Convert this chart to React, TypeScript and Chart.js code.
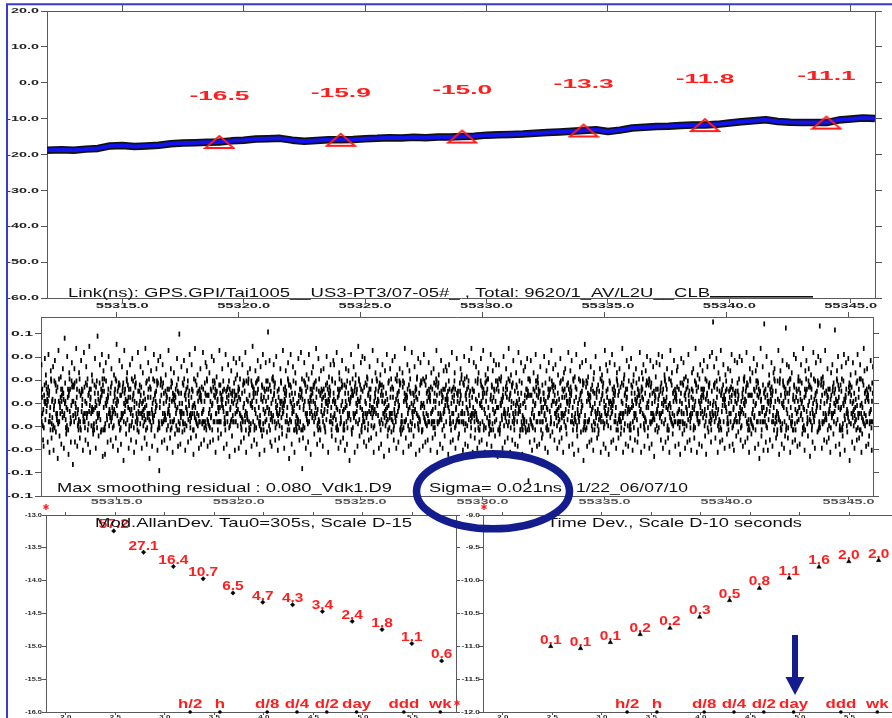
import React, { useEffect, useRef } from 'react';
import { Chart, registerables } from 'chart.js';
Chart.register(...registerables);

const W = 900, H = 730;
const RED = '#ff1e1e';
const NAVY = '#131d8e';
const FRAME = '#3a3ad0';
const LINE_BLUE = '#1212ee';
const SANS = '"Liberation Sans", Arial, sans-serif';

// ---------- top panel: link difference (ns) ----------
const dayMin = 55311.9;
const dayMax = 55346.0;
const dayTicks = [55315, 55320, 55325, 55330, 55335, 55340, 55345];
const topYTicks = [20, 10, 0, -10, -20, -30, -40, -50, -60];
const topDays = [55311.9, 55312.5, 55313.0, 55313.5, 55314.0, 55314.5, 55315.0, 55315.5, 55316.0, 55316.5,
  55317.0, 55317.5, 55318.0, 55318.5, 55319.0, 55319.5, 55320.0, 55320.5, 55321.0, 55321.5,
  55322.0, 55322.5, 55323.0, 55323.5, 55324.0, 55324.5, 55325.0, 55325.5, 55326.0, 55326.5,
  55327.0, 55327.5, 55328.0, 55328.5, 55329.0, 55329.5, 55330.0, 55330.5, 55331.0, 55331.5,
  55332.0, 55332.5, 55333.0, 55333.5, 55334.0, 55334.5, 55335.0, 55335.5, 55336.0, 55336.5,
  55337.0, 55337.5, 55338.0, 55338.5, 55339.0, 55339.5, 55340.0, 55340.5, 55341.0, 55341.5,
  55342.0, 55342.5, 55343.0, 55343.5, 55344.0, 55344.5, 55345.0, 55345.5, 55346.0];
const topValues = [-18.8, -18.7, -18.8, -18.5, -18.3, -17.6, -17.5, -17.8, -17.6, -17.4,
  -17.0, -16.8, -16.7, -16.6, -16.5, -16.2, -16.0, -15.7, -15.6, -15.5,
  -16.0, -16.3, -16.1, -15.9, -15.9, -15.8, -15.6, -15.5, -15.3, -15.4,
  -15.2, -15.3, -15.1, -15.1, -15.0, -14.9, -14.6, -14.5, -14.4, -14.3,
  -14.1, -13.9, -13.7, -13.5, -13.3, -13.1, -13.6, -13.2, -12.6, -12.4,
  -12.2, -12.1, -11.9, -11.8, -11.8, -11.6, -11.2, -10.9, -10.6, -10.3,
  -10.8, -11.0, -11.1, -11.1, -11.1, -10.4, -10.1, -9.8, -10.0];
const markDays = [55319, 55324, 55329, 55334, 55339, 55344];
const markValues = [-16.5, -15.9, -15.0, -13.3, -11.8, -11.1];
const topTitle = 'Link(ns): GPS.GPI/Tai1005__US3-PT3/07-05#_ , Total: 9620/1_AV/L2U__CLB';

// ---------- middle panel: smoothing residuals (ns), one character per sample ----------
const residLevels = '!#$%&()*+,-./0123456789:;<=>?@ABCDEFGHIJKLMNOPQRSTUVWXYZ[]^_abcdefghijklmnopqrstuvwxyz{|}~';
const residZero = 43;
const residStep = 0.0022;
const residRows = [
  'THcEQUIC<K9BROWfNFO]XJUMPS;OVhERT6HELA_ZY=DOGPAbC7KMYBeOXW@ITHFIV3EDjOZE>NLIQ[U:ORJUGaSSP8HIpNXOFB?LACgKQUA5RT^ZJUDG;EMYdVOW0',
  'HOWVEaX;INGLkYQU9ICKDAF^TZ=EBRAeSJUMPT7HEFiIVEBO<XIbNGWIZA:RDSJlUM6PQUICK]LYJA?CKDAWSfLO8VEMYBIqGSP>HINXcOFQ@UARhTZ4',
  'WA_LTZBA5DNdYMPHFO;RQUgICKJIGS<VEaXGLIB9JOC]KSQUIZ=NYmMPHT7OVEXDeWARFB:RIGbHTVIX2ENjSJUMPD?OZY^FOWLQ8UACKc',
  'QUI<CKZEfPHYRSB6LO[WVEX;INGDAFiTJ@IMTWODbRIVI8NGJ^OCKSHE=LPkFAXM:YBIGQdUIZF3IVEQU_ACK9INGZEPhHY>RSJOLTaMYW7AXeBED-',
  'BLOgWZYRE;DVcIXENSF<IGHT]FORAQ8UICKjJUMPH=EAaVYBOXE6SPER^FOR?MQUICKWfALT9ZESArNDJ:IGSb',
  'JIN@XEDWIeZARD7SPLUCK_IVY;FROMThHEBI=GQcUILTAM5AZINGkLYF>EWDIS]COTH8EQUESaPR:OVIDEJiUKE<BOXESd',
  'CRAbZYF9REDRIC^KB;OUGHTgMANY<VEeRYEXQU6ISI[TEOPAL=JEWjELSWE?PROMaPTLYJ8UDGEDAhNTI:QUEIVcORYB4UCKLES_FO>RTHENfEXTP7RIZEd',
  'MRJ]OCKTV8QUfIZPHD;BAGScFEWLY=NXTHEiJA6YPIGF^OXZ?EBRAaANDMY9WOLlVESQU<ACKS_IXBO:YSGeUZZLED5CHEbAPRAW>VOhDKAQU7ITEJdOYFU@LLYs',
  'QUICKeWA;FTIN9GZEP[HYcRSVEX<BOLgDJIMT7HEQU=ICKOaNYXGOB?LIjNJUM8PSOVE_RT>HELAZdYDW3ARFWOhVEN:SILKbPYJAM6AS^EXCHA@NGEDFfORB<LUEQUiARTZ.',
  'PA=CKMYdBOXWI8TH]FIVED;OZhENLIQU5ORJ^UGSHbOWVE?XINGLYkQUI:CKDAfFTZEB<RAS_JUMPTH9EQaUICKBR@OWNFgOXJUM6PS[OVERTcHELA>ZYDOGe',
  'SPcHINXO<FBLiACKQUA8RT^ZJUD;GEMYVeOWJ=ACKDAW7SLOaVEM:YBIGS_PHI2NXOFQhUA?RTZBRIbGHT6VIX]ENSJUM9PDlOZYF>OWLQdUA@CKg',
  'THEFI;VEfBOXIN9GW[IZARDS<JUbMPQUI=CKLYGjLIB6JOCKSQ^UI?ZNYMePHTO8VEXDW]AR:FTWOcDRIVI4NGJ_OCKSHEhLP>FAXMY7BIGaQUIZ@',
  'FIVeEQUA<CKIgNGZEP8HY]RSJO;LTMYaWAXB?EDHEA^VY6BOXESkPER=FORMQcUICK9WA_LTZES:ANiDJIGSM>RJObCKTV5QUIZ[PHDfBAGS7FEWdLYNX@',
  'AMA9ZINhGLYFE;WD[ISCOT<HEQdUESPRO7VI^DEJU=KEBaOXESB?LOWZjYR6EDVIX]ENSF:IGHeTFORA8QUI_CKJ>UMPb',
  'WEP_ROMPT5LYcJUDGE;DANTiIQU<EIVORY^BU8CKLEfSFORT=HE?NEXTPaRIZ]EJIN7XEDWgIZA:RDSPL[UCK9IVYFeROMTH>EBkIGQU6ILTd',
  'THE=JAYPbIGFO8XZEB^RA;ANDMYfWO<LVESQjUACKS6IX]BOYS:GUZaZLED?CHEAPhRA9WVOD_KAQeUITE>JOYcFULLY4',
  'WALTcZB?ADNYM[PHFO8RQUgICKJ;IGSVaEXQUI=CKZkEPHYR6SB]LOWV<EXIeNGDAFT:JIM^WOVEN9SIiLKPY>JAMAdSEXC5HANG_EDFORbBL@UEQUfARTZ(',
  'CRAZ;YFReEDRI7CKBOU^GH<TMANhYVER9YE[XQUIS:ITEbOPALJ=EW?ELSSPgHIN8XOFB_LACK6QUAdRTZJU>DGEjMYV@OWa',
  'TWOD<RIVcINGJOC8KS]HELP;FAXfMYBI=GQUIZ6TH^EQUIaCKBR?OWNFOXiJU9MPSO_VERTeHE:LAZYD5OG[FIVEQhUAC>KIN7GZEPHbYRS@JOLTdMYWA2XBEDm',
  'HEAeVYBO9XES[PERF;ORMQbUI<CKWALT7ZE^SANDJgIGSQU=ICKW?AFTINaGZ6EPHY]RSVEX:BOLDjJI8Mc',
  'THEQ_UICK5ONYdXGOBL;INhJUMP<SOVEcRTHEL8AZ^YDWAR=FTHaEFIV?EBOXIkNG6WIZA]RDSJ:UMPeQUICK9LYb',
  'JACK=DAfWSLOV7EMY]BIGS<PHIaNXOFQ;UA?RTZMRiJOCK6TV^QUIZPcHDB9AGSF_EWLYgNX>BLOWZ8YREeDVIX:ENSFIbGHT4FORAQ[UIdCKJ@UMPh',
  'BRIcGHTV<IXENgSJ8UMPDO]ZYF;OWLQUaACK=AMAZ6INGjLYFEW^DI?SCOTeHEQU9ESPRO_VIbDEJ:UKEBO5XESf',
  'JINX?EDWdIZARD8SP[LUCKI;VYFhROMT<HEBIG7QU^ILTPaACK=MYBOkXWIT6HF]IVEDO:ZENcLIQUO9RJ_UGSQeUICK>ZEP5HYRSbBLO@WVEXgINGD;AFTiJIMx',
  'HOWbVEXI=NGLfYQUI6CK^DAFTZ;EBjRASJU<MPWcEPRO8MP]TLYJU?DGEaDANTI9QU_EIVOhRYB:UCKL7ESeFORTH>ENEdXTP@RIZEg',
  'GLI<BJOCeKSQ9UIZNY[MP;HTOViEXD=WARFC6RAaZYFRE?DRI^CKBOfUGHT8MA_NYVEcRYEX:QUI3SITEkOP>ALJEbWE7LSw',
  'THEQU;ICgKBRO7WNFO]XJ<UMPSOdVER9THE^LAZaYDOGT=HEJ?AYPIjGF5OXZE_BRAA:NDeMYWOL8VES>QUuACKc',
  'SIX=BOYbSGUZ6ZLEDC^HE;APRAhWVOD<KAfQUITE9JOY[FULL:YSPHcINXO?FBkLACKQ7UA_RTZeJUDGE>MYaVOWF4IVE]QUACK;INiGZEPH8YRSdJOLTM@YWgAXBEDv',
  'BLeOWZY8RED[VIXE<NSFjIGHTF;ORaAQUI=CKJUM6PB^RIGHcTVI?XENSJtUM9PDOZ_YFOgWLQU:AC5KWALTbZBA>DNYMhPH7FORQdUICK@JIGfSVEX2',
  'TWO]DRIVI;NGdJOCKS8HEL^PFAX<MYhBIGQU=IZAcMAZI6NG?LYFEWkDI_SCOTH9EQUaESPR:OV>IDEJUeKEB7OXESb',
];
const residMin = -0.1;
const residMax = 0.0933;
const residTicks = [0.075, 0.05, 0.025, 0, -0.025, -0.05, -0.075, -0.1];
const residTickLabels = ['0.1', '0.0', '0.0', '0.0', '0.0', '-0.0', '-0.1', '-0.1'];
const residNote = 'Max smoothing residual : 0.080_Vdk1.D9';
const sigmaNote = 'Sigma= 0.021ns';
const dateNote = '1/22_06/07/10';

// ---------- bottom panels: stability ----------
const tauLog = [2.484, 2.785, 3.086, 3.387, 3.688, 3.989, 4.290, 4.591, 4.892, 5.193, 5.494, 5.795];
const allanDev = [57.2, 27.1, 16.4, 10.7, 6.5, 4.7, 4.3, 3.4, 2.4, 1.8, 1.1, 0.6]; // x 1e-15
const timeDev = [0.100, 0.093, 0.115, 0.152, 0.19, 0.28, 0.50, 0.77, 1.10, 1.62, 1.96, 2.04]; // x 1e-10 s
const spanNames = ['h/2', 'h', 'd/8', 'd/4', 'd/2', 'day', 'ddd', 'wk'];
const spanSeconds = [1800, 3600, 10800, 21600, 43200, 86400, 259200, 604800];
const logMin = 1.8;
const logMax = 5.94;
const logTicks = [2.0, 2.5, 3.0, 3.5, 4.0, 4.5, 5.0, 5.5];
const allanYTicks = [-13.0, -13.5, -14.0, -14.5, -15.0, -15.5, -16.0];
const tdevYTicks = [-9.0, -9.5, -10.0, -10.5, -11.0, -11.5, -12.0];
const allanTitle = 'Mod.AllanDev. Tau0=305s, Scale D-15';
const tdevTitle = 'Time Dev., Scale D-10 seconds';

// ---------- drawing helpers ----------
function measure(ctx: CanvasRenderingContext2D, s: string, font: string) {
  ctx.save(); ctx.font = font; const w = ctx.measureText(s).width; ctx.restore(); return w;
}
function txt(ctx: CanvasRenderingContext2D, s: string, x: number, y: number, font: string, color: string,
  sx: number, align = 'left', base: CanvasTextBaseline = 'alphabetic') {
  ctx.save();
  ctx.font = font; ctx.fillStyle = color; ctx.textAlign = 'left'; ctx.textBaseline = base;
  const w = ctx.measureText(s).width * sx;
  const x0 = align === 'center' ? x - w / 2 : align === 'right' ? x - w : x;
  ctx.translate(x0, y); ctx.scale(sx, 1); ctx.fillText(s, 0, 0);
  ctx.restore();
}
function fit(ctx: CanvasRenderingContext2D, s: string, x1: number, x2: number, y: number, font: string, color = '#111') {
  txt(ctx, s, x1, y, font, color, (x2 - x1) / measure(ctx, s, font));
}
function star(ctx: CanvasRenderingContext2D, x: number, y: number) {
  ctx.save(); ctx.strokeStyle = RED; ctx.lineWidth = 1.4;
  for (let k = 0; k < 3; k++) {
    const a = Math.PI / 2 + k * Math.PI / 3;
    ctx.beginPath(); ctx.moveTo(x - 3 * Math.cos(a), y - 3 * Math.sin(a)); ctx.lineTo(x + 3 * Math.cos(a), y + 3 * Math.sin(a)); ctx.stroke();
  }
  ctx.restore();
}
type LabOpt = { font: string; ref: string; refW: number; gap: number; labels?: string[]; color?: string };
function yLabels(chart: any, id: string, o: LabOpt) {
  const s = chart.scales[id]; const ctx = chart.ctx; const a = chart.chartArea;
  const sx = o.refW / measure(ctx, o.ref, o.font);
  s.ticks.forEach((t: any, i: number) => {
    const lab = o.labels ? o.labels[i] : Number(t.value).toFixed(1);
    txt(ctx, lab, a.left - o.gap, s.getPixelForValue(t.value), o.font, o.color || '#222', sx, 'right', 'middle');
  });
}
function xLabels(chart: any, id: string, o: LabOpt) {
  const s = chart.scales[id]; const ctx = chart.ctx; const a = chart.chartArea;
  const sx = o.refW / measure(ctx, o.ref, o.font);
  s.ticks.forEach((t: any, i: number) => {
    const lab = o.labels ? o.labels[i] : Number(t.value).toFixed(1);
    txt(ctx, lab, s.getPixelForValue(t.value), a.bottom + o.gap, o.font, o.color || '#222', sx, 'center', 'middle');
  });
}

type Box = { L: number; T: number; R: number; B: number };
type Sizes = { l: number; t: number; r: number; b: number };
function pad(a: Box, s: Sizes) {
  return { left: a.L - s.l, top: a.T - s.t, right: W - a.R - s.r, bottom: H - a.B - s.b };
}
function axis(pos: string, size: number, min: number, max: number, ticks: number[], tl: number) {
  const vertical = pos === 'left' || pos === 'right';
  return {
    type: 'linear', position: pos, min, max,
    afterFit: (s: any) => { if (vertical) s.width = size; else s.height = size; },
    afterBuildTicks: (s: any) => { s.ticks = ticks.map((v) => ({ value: v })); },
    ticks: { display: false },
    grid: { display: true, drawOnChartArea: false, drawTicks: true, tickLength: tl, color: '#555', lineWidth: 1 },
    border: { display: true, color: '#5a5a5a', width: 1 },
  };
}
const baseOpts = {
  responsive: false, animation: false, devicePixelRatio: 1, events: [],
  plugins: { legend: { display: false }, tooltip: { enabled: false } },
};

// ---------- charts ----------
function makeTop(cv: HTMLCanvasElement) {
  const A = { L: 47, T: 11, R: 875, B: 298 };
  const S = { l: 47, t: 11, r: 17, b: 22 };
  const tri = document.createElement('canvas'); tri.width = 32; tri.height = 16;
  const tc = tri.getContext('2d')!;
  tc.strokeStyle = RED; tc.lineWidth = 2; tc.lineJoin = 'miter';
  tc.beginPath(); tc.moveTo(16, 2); tc.lineTo(2, 14); tc.lineTo(30, 14); tc.closePath(); tc.stroke();
  const line = topDays.map((d, i) => ({ x: d, y: topValues[i] }));
  return new Chart(cv, {
    type: 'scatter',
    data: {
      datasets: [
        { data: line, showLine: true, borderColor: '#111', borderWidth: 7.5, pointRadius: 0, order: 3, borderJoinStyle: 'round' },
        { data: line, showLine: true, borderColor: LINE_BLUE, borderWidth: 4, pointRadius: 0, order: 2, borderJoinStyle: 'round' },
        { data: markDays.map((d, i) => ({ x: d, y: markValues[i] })), pointStyle: tri, pointRadius: 8, order: 1 },
      ],
    } as any,
    options: {
      ...baseOpts,
      layout: { padding: pad(A, S) },
      scales: {
        x: axis('bottom', S.b, dayMin, dayMax, dayTicks, 5),
        xt: axis('top', S.t, dayMin, dayMax, dayTicks, 6),
        y: axis('left', S.l, -60, 20, topYTicks, 6),
        yr: axis('right', S.r, -60, 20, topYTicks, 7),
      },
    } as any,
    plugins: [{
      id: 'topDeco',
      afterDraw(chart: any) {
        const ctx = chart.ctx;
        yLabels(chart, 'y', { font: `bold 8px ${SANS}`, ref: '20.0', refW: 28, gap: 8 });
        xLabels(chart, 'x', { font: `bold 8px ${SANS}`, ref: '55315.0', refW: 53, gap: 8 });
        const meta = chart.getDatasetMeta(2);
        const f = `bold 13px ${SANS}`;
        const sx = 60 / measure(ctx, '-16.5', f);
        meta.data.forEach((el: any, i: number) => {
          txt(ctx, markValues[i].toFixed(1), el.x, el.y - 46, f, RED, sx, 'center', 'middle');
        });
        fit(ctx, topTitle, 68, 710, 296.5, `13px ${SANS}`);
        ctx.save(); ctx.fillStyle = '#111'; ctx.fillRect(710, 296, 103, 1.6); ctx.restore();
      },
    }],
  });
}

function makeMid(cv: HTMLCanvasElement) {
  const A = { L: 41, T: 317, R: 873, B: 496 };
  const S = { l: 41, t: 10, r: 19, b: 12 };
  const codes = residRows.join('').split('').filter((c) => residLevels.indexOf(c) >= 0);
  const n = codes.length;
  const pts = codes.map((c, i) => ({
    x: dayMin + (i * (dayMax - dayMin)) / (n - 1),
    y: (residLevels.indexOf(c) - residZero) * residStep,
  }));
  return new Chart(cv, {
    type: 'scatter',
    data: {
      datasets: [{
        data: pts, pointStyle: 'line', pointRotation: 90, pointRadius: 2.5,
        pointBorderWidth: 1.7, pointBorderColor: '#000', pointBackgroundColor: '#000',
      }],
    } as any,
    options: {
      ...baseOpts,
      layout: { padding: pad(A, S) },
      scales: {
        x: axis('bottom', S.b, dayMin, dayMax, dayTicks, 4),
        xt: axis('top', S.t, dayMin, dayMax, dayTicks, 5),
        y: axis('left', S.l, residMin, residMax, residTicks, 6),
        yr: axis('right', S.r, residMin, residMax, residTicks, 6),
      },
    } as any,
    plugins: [{
      id: 'midDeco',
      afterDraw(chart: any) {
        const ctx = chart.ctx;
        yLabels(chart, 'y', { font: `bold 8px ${SANS}`, ref: '0.1', refW: 22, gap: 8, labels: residTickLabels });
        xLabels(chart, 'x', { font: `bold 8px ${SANS}`, ref: '55315.0', refW: 52, gap: 6, color: '#555' });
        const f = `13px ${SANS}`;
        fit(ctx, residNote, 57, 392, 492, f);
        fit(ctx, sigmaNote, 429, 562, 492, f);
        fit(ctx, dateNote, 576, 688, 492, f);
      },
    }],
  });
}

function makeDev(cv: HTMLCanvasElement, right: boolean) {
  const A = right ? { L: 483, T: 515, R: 893, B: 712 } : { L: 46, T: 515, R: 456, B: 712 };
  const S = right ? { l: 20, t: 8, r: 0, b: 18 } : { l: 46, t: 8, r: 8, b: 18 };
  const vals = right ? timeDev : allanDev;
  const unit = right ? 1e-10 : 1e-15;
  const yMin = right ? -12 : -16;
  const yMax = right ? -9 : -13;
  const yTicks = right ? tdevYTicks : allanYTicks;
  return new Chart(cv, {
    type: 'scatter',
    data: {
      datasets: [
        {
          data: tauLog.map((t, i) => ({ x: t, y: Math.log10(vals[i] * unit) })),
          pointStyle: right ? 'triangle' : 'rectRot', pointRadius: right ? 2.6 : 2.2,
          pointBackgroundColor: '#000', pointBorderColor: '#000', pointBorderWidth: 0.5, clip: false,
        },
        {
          data: spanSeconds.map((s) => ({ x: Math.log10(s), y: yMin })),
          pointStyle: 'circle', pointRadius: 1.8, pointBackgroundColor: '#000', pointBorderColor: '#000',
          pointBorderWidth: 0, clip: false,
        },
      ],
    } as any,
    options: {
      ...baseOpts,
      layout: { padding: pad(A, S) },
      scales: {
        x: axis('bottom', S.b, logMin, logMax, logTicks, 3),
        xt: axis('top', S.t, logMin, logMax, logTicks, 3),
        y: axis('left', S.l, yMin, yMax, yTicks, 4),
        yr: axis('right', Math.max(S.r, 0.01), yMin, yMax, yTicks, 4),
      },
    } as any,
    plugins: [{
      id: 'devLabels',
      beforeDatasetsDraw(chart: any) {
        const ctx = chart.ctx;
        const f = `bold 12px ${SANS}`;
        const sx = 30 / measure(ctx, '27.1', f);
        chart.getDatasetMeta(0).data.forEach((el: any, i: number) => {
          txt(ctx, vals[i].toFixed(1), el.x, el.y - 6, f, RED, sx, 'center', 'middle');
        });
        const fm = `bold 13px ${SANS}`;
        const sm = 29 / measure(ctx, 'day', fm);
        chart.getDatasetMeta(1).data.forEach((el: any, i: number) => {
          txt(ctx, spanNames[i], el.x, el.y - 8, fm, RED, sm, 'center', 'middle');
        });
      },
      afterDraw(chart: any) {
        const ctx = chart.ctx;
        yLabels(chart, 'y', { font: `bold 6px ${SANS}`, ref: '-13.0', refW: right ? 19 : 17, gap: right ? 3 : 4 });
        xLabels(chart, 'x', { font: `bold 6px ${SANS}`, ref: '2.0', refW: 11, gap: 5.5 });
        if (right) fit(ctx, tdevTitle, 547, 802, 527, `13px ${SANS}`);
        else fit(ctx, allanTitle, 95, 412, 527, `13px ${SANS}`);
        if (right) {
          star(ctx, 484, 507);
          // overlay marks: blue frame, ellipse, arrow
          ctx.save();
          ctx.strokeStyle = FRAME; ctx.lineWidth = 2;
          ctx.beginPath(); ctx.moveTo(7, 730); ctx.lineTo(7, 4.3); ctx.lineTo(900, 4.3); ctx.stroke();
          ctx.strokeStyle = NAVY; ctx.lineWidth = 7.5;
          ctx.beginPath(); ctx.ellipse(493, 491.3, 76.5, 37.5, 0, 0, Math.PI * 2); ctx.stroke();
          ctx.fillStyle = NAVY;
          ctx.fillRect(792, 635, 6, 43);
          ctx.beginPath(); ctx.moveTo(785.5, 677); ctx.lineTo(804.5, 677); ctx.lineTo(795, 695); ctx.closePath(); ctx.fill();
          ctx.restore();
        } else {
          star(ctx, 46, 507);
          star(ctx, 457, 703);
        }
      },
    }],
  });
}

export default function App() {
  const rA = useRef<HTMLCanvasElement>(null);
  const rB = useRef<HTMLCanvasElement>(null);
  const rC = useRef<HTMLCanvasElement>(null);
  const rD = useRef<HTMLCanvasElement>(null);
  useEffect(() => {
    const charts = [makeTop(rA.current!), makeMid(rB.current!), makeDev(rC.current!, false), makeDev(rD.current!, true)];
    return () => charts.forEach((c) => c.destroy());
  }, []);
  const cs: React.CSSProperties = { position: 'absolute', left: 0, top: 0, width: W, height: H };
  return (
    <div style={{ position: 'absolute', left: 0, top: 0, width: 892, height: 718, overflow: 'hidden', background: '#fff' }}>
      <canvas ref={rA} width={W} height={H} style={cs} />
      <canvas ref={rB} width={W} height={H} style={cs} />
      <canvas ref={rC} width={W} height={H} style={cs} />
      <canvas ref={rD} width={W} height={H} style={cs} />
    </div>
  );
}
